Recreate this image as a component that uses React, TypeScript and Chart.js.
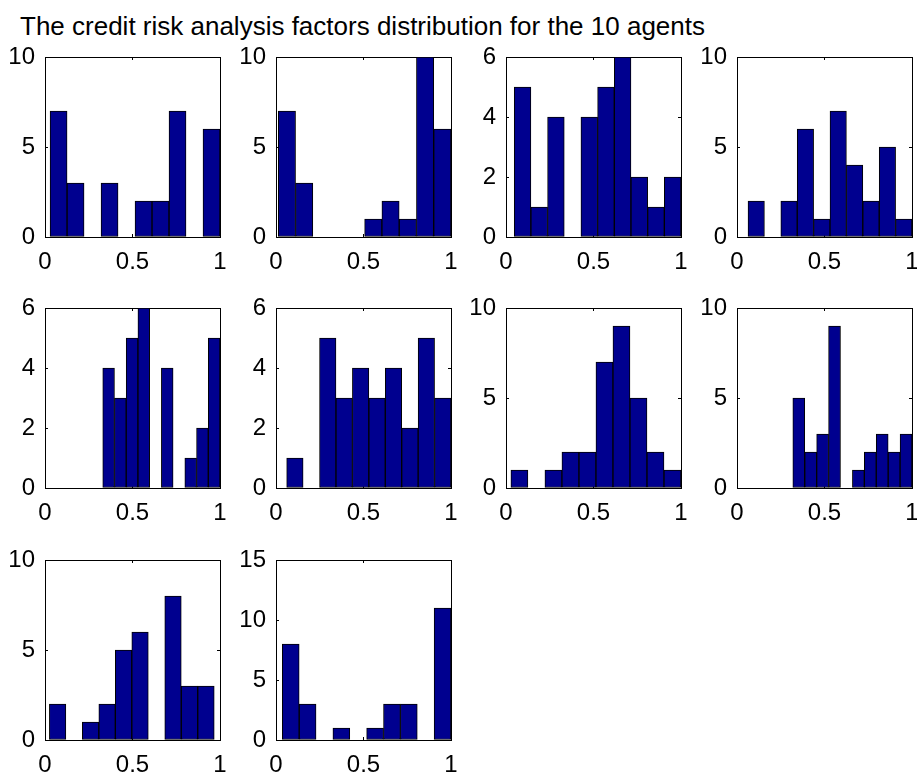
import React, { useEffect, useRef } from "react";
import { Chart, registerables } from "chart.js";

Chart.register(...registerables);

const TITLE = "The credit risk analysis factors distribution for the 10 agents";

// Histogram counts (10 bins each) for every agent
const agent1 = [7, 3, 0, 3, 0, 2, 2, 7, 0, 6];
const agent2 = [7, 3, 0, 0, 0, 1, 2, 1, 10, 6];
const agent3 = [5, 1, 4, 0, 4, 5, 6, 2, 1, 2];
const agent4 = [2, 0, 2, 6, 1, 7, 4, 2, 5, 1];
const agent5 = [4, 3, 5, 6, 0, 4, 0, 1, 2, 5];
const agent6 = [1, 0, 5, 3, 4, 3, 4, 2, 5, 3];
const agent7 = [1, 0, 1, 2, 2, 7, 9, 5, 2, 1];
const agent8 = [5, 2, 3, 9, 0, 1, 2, 3, 2, 3];
const agent9 = [2, 0, 1, 2, 5, 6, 0, 8, 3, 3];
const agent10 = [8, 3, 0, 1, 0, 1, 3, 3, 0, 11];

const agentCounts = [agent1, agent2, agent3, agent4, agent5, agent6, agent7, agent8, agent9, agent10];

// Lowest and highest factor value of each agent (histogram range)
const binLows = [0.029, 0.013, 0.047, 0.063, 0.33, 0.061, 0.028, 0.319, 0.025, 0.036];
const binHighs = [1.0, 1.0, 1.0, 1.0, 1.0, 1.0, 1.0, 1.0, 0.967, 1.0];

// Y axis limits and tick steps
const yMaxes = [10, 10, 6, 10, 6, 6, 10, 10, 10, 15];
const yStepSizes = [5, 5, 2, 5, 2, 2, 5, 5, 5, 5];

// X axis limits and tick step
const xMin = 0;
const xMax = 1;
const xStep = 0.5;

// Subplot grid geometry
const COL_LEFTS = [45, 276, 506, 737];
const ROW_TOPS = [57, 308, 560];
const AX_W = 175;
const AX_H = 180;
const PAD_L = 45;
const PAD_T = 32;
const PAD_R = 24;
const PAD_B = 45;

const FONT_FAMILY = "'Liberation Sans', Arial, Helvetica, sans-serif";
const TICK_FONT = { family: FONT_FAMILY, size: 24 };
const BAR_COLOR = "#00008F";

const plainNumber = (v: number | string) => String(Number(v));

function Histogram({ index }: { index: number }) {
  const ref = useRef<HTMLCanvasElement | null>(null);
  const col = index % 4;
  const row = Math.floor(index / 4);
  const width = PAD_L + AX_W + PAD_R;
  const height = PAD_T + AX_H + PAD_B;

  useEffect(() => {
    if (!ref.current) return;
    const counts = agentCounts[index];
    const lo = binLows[index];
    const hi = binHighs[index];
    const binW = (hi - lo) / counts.length;
    const points = counts.map((c, i) => ({ x: lo + (i + 0.5) * binW, y: c }));

    const sharedGrid = {
      drawOnChartArea: false,
      drawTicks: true,
      tickLength: -3,
      color: "#000",
      lineWidth: 1,
      offset: false,
    };
    const border = { display: true, color: "#000", width: 1 };

    const chart = new Chart(ref.current, {
      type: "bar",
      data: {
        datasets: [
          {
            data: points,
            backgroundColor: BAR_COLOR,
            borderColor: "#000",
            borderWidth: 1,
            borderSkipped: false,
            barPercentage: 1,
            categoryPercentage: 1,
          },
        ],
      },
      options: {
        responsive: false,
        animation: false,
        events: [],
        layout: { padding: { left: 0, top: PAD_T, right: PAD_R, bottom: 0 } },
        plugins: {
          legend: { display: false },
          tooltip: { enabled: false },
          title: { display: false },
        },
        scales: {
          x: {
            type: "linear",
            position: "bottom",
            min: xMin,
            max: xMax,
            offset: false,
            grid: sharedGrid,
            border,
            ticks: {
              stepSize: xStep,
              color: "#000",
              font: TICK_FONT,
              padding: 14,
              maxRotation: 0,
              autoSkip: false,
              callback: plainNumber,
            },
            afterFit: (s: any) => {
              s.height = PAD_B;
            },
          },
          x2: {
            type: "linear",
            position: "top",
            min: xMin,
            max: xMax,
            offset: false,
            grid: sharedGrid,
            border,
            ticks: { stepSize: xStep, display: false },
            afterFit: (s: any) => {
              s.height = 0;
            },
          },
          y: {
            type: "linear",
            position: "left",
            min: 0,
            max: yMaxes[index],
            grid: sharedGrid,
            border,
            ticks: {
              stepSize: yStepSizes[index],
              color: "#000",
              font: TICK_FONT,
              padding: 13,
              callback: plainNumber,
            },
            afterFit: (s: any) => {
              s.width = PAD_L;
            },
          },
          y2: {
            type: "linear",
            position: "right",
            min: 0,
            max: yMaxes[index],
            grid: sharedGrid,
            border,
            ticks: { stepSize: yStepSizes[index], display: false },
            afterFit: (s: any) => {
              s.width = 0;
            },
          },
        },
      } as any,
    });
    return () => chart.destroy();
  }, [index]);

  return (
    <canvas
      ref={ref}
      width={width}
      height={height}
      style={{
        position: "absolute",
        left: COL_LEFTS[col] - PAD_L,
        top: ROW_TOPS[row] - PAD_T,
        width,
        height,
      }}
    />
  );
}

export default function App() {
  return (
    <div
      style={{
        position: "absolute",
        left: 0,
        top: 0,
        width: 917,
        height: 774,
        overflow: "hidden",
        background: "#fff",
      }}
    >
      <div
        style={{
          position: "absolute",
          left: 20,
          top: 13,
          fontFamily: FONT_FAMILY,
          fontSize: 26,
          lineHeight: "26px",
          color: "#000",
          whiteSpace: "nowrap",
        }}
      >
        {TITLE}
      </div>
      {agentCounts.map((_, i) => (
        <Histogram key={i} index={i} />
      ))}
    </div>
  );
}
